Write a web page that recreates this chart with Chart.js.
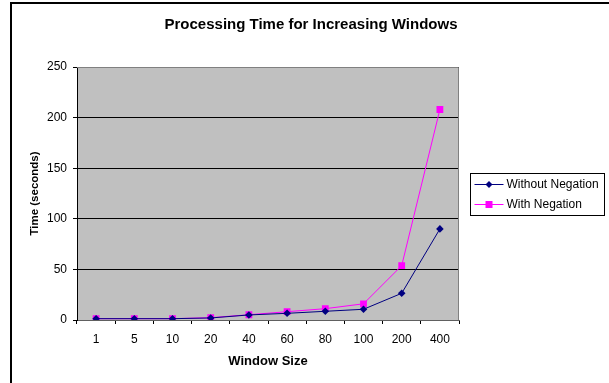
<!DOCTYPE html>
<html>
<head>
<meta charset="utf-8">
<script src="https://cdn.jsdelivr.net/npm/chart.js@4"></script>
<style>
  html, body { margin: 0; padding: 0; background: #fff; }
  #wrap { width: 609px; height: 383px; position: relative; }
</style>
</head>
<body>
<div id="wrap"><canvas id="timeChart" width="609" height="383"></canvas></div>
<script>
// chart data
const windowSizes = ['1', '5', '10', '20', '40', '60', '80', '100', '200', '400'];
const withoutNegation = [1.3, 1.3, 1.3, 2, 5, 6.6, 8.6, 10.6, 26.4, 90];
const withNegation = [1.3, 1.3, 1.3, 2.3, 5.2, 8.2, 11.2, 16, 53.7, 208];
const yTicks = [0, 50, 100, 150, 200, 250];
const chartTitle = 'Processing Time for Increasing Windows';

const FONT = 'Liberation Sans, Arial, sans-serif';

// outer frame, title and grey plot background
const framePlugin = {
  id: 'frame',
  beforeDraw(chart) {
    const c = chart.ctx;
    const a = chart.chartArea;
    c.save();
    c.fillStyle = '#fff';
    c.fillRect(0, 0, chart.width, chart.height);
    c.strokeStyle = '#000';
    c.lineWidth = 2;
    c.beginPath();
    c.moveTo(11, chart.height);
    c.lineTo(11, 3);
    c.lineTo(chart.width, 3);
    c.stroke();
    // title is centred on the whole frame, not the plot
    c.fillStyle = '#000';
    c.font = 'bold 15px ' + FONT;
    c.textAlign = 'center';
    c.textBaseline = 'middle';
    c.fillText(chartTitle, 311, 25);
    c.fillStyle = '#c0c0c0';
    c.fillRect(a.left, a.top, a.right - a.left, a.bottom - a.top);
    c.restore();
  },
  afterDatasetsDraw(chart) {
    // grey plot border on top and right
    const c = chart.ctx;
    const a = chart.chartArea;
    c.save();
    c.strokeStyle = '#808080';
    c.lineWidth = 1;
    c.beginPath();
    c.moveTo(a.left, a.top + 0.5);
    c.lineTo(a.right - 0.5, a.top + 0.5);
    c.lineTo(a.right - 0.5, a.bottom);
    c.stroke();
    c.restore();
  }
};

// boxed legend to the right of the plot
const boxLegend = {
  id: 'boxLegend',
  afterDraw(chart) {
    const c = chart.ctx;
    const x = 470.5, y = 173.5, w = 134, h = 42;
    c.save();
    c.fillStyle = '#fff';
    c.fillRect(x, y, w, h);
    c.strokeStyle = '#000';
    c.lineWidth = 1;
    c.strokeRect(x, y, w, h);
    chart.data.datasets.forEach((ds, i) => {
      const ly = y + 11 + i * 20;
      c.strokeStyle = ds.borderColor;
      c.beginPath();
      c.moveTo(x + 4, ly);
      c.lineTo(x + 33, ly);
      c.stroke();
      c.fillStyle = ds.backgroundColor;
      if (ds.pointStyle === 'rectRot') {
        c.beginPath();
        c.moveTo(x + 18.5, ly - 3.5);
        c.lineTo(x + 22, ly);
        c.lineTo(x + 18.5, ly + 3.5);
        c.lineTo(x + 15, ly);
        c.closePath();
        c.fill();
      } else {
        c.fillRect(x + 15, ly - 3.5, 7, 7);
      }
      c.fillStyle = '#000';
      c.font = '12px ' + FONT;
      c.textBaseline = 'middle';
      c.textAlign = 'left';
      c.fillText(ds.label, x + 36, ly);
    });
    c.restore();
  }
};

const ctx = document.getElementById('timeChart').getContext('2d');
const timeChart = new Chart(ctx, {
  type: 'line',
  data: {
    labels: windowSizes,
    datasets: [{
      label: 'Without Negation',
      data: withoutNegation,
      borderColor: '#000080',
      backgroundColor: '#000080',
      borderWidth: 1,
      pointStyle: 'rectRot',
      pointRadius: 3.8,
      pointBorderWidth: 0,
      tension: 0
    }, {
      label: 'With Negation',
      data: withNegation,
      borderColor: '#ff00ff',
      backgroundColor: '#ff00ff',
      borderWidth: 1,
      pointStyle: 'rect',
      pointRadius: 4.8,
      pointBorderWidth: 0,
      tension: 0
    }]
  },
  options: {
    responsive: false,
    animation: false,
    devicePixelRatio: 1,
    layout: { padding: { left: 12, right: 150, top: 67, bottom: 0 } },
    plugins: {
      legend: { display: false },
      tooltip: { enabled: false },
      title: { display: false }
    },
    scales: {
      x: {
        offset: true,
        grid: {
          offset: true,
          drawOnChartArea: false,
          drawTicks: true,
          tickLength: 4,
          color: '#000'
        },
        border: { color: '#606060', width: 1 },
        ticks: { color: '#000', font: { family: FONT, size: 12 }, padding: 8, maxRotation: 0, autoSkip: false },
        title: {
          display: true,
          text: 'Window Size',
          color: '#000',
          font: { family: FONT, size: 13, weight: 'bold' },
          padding: { top: 0, bottom: 14 }
        },
        afterFit(scale) { scale.height = 63; }
      },
      y: {
        min: 0,
        max: 250,
        afterBuildTicks(scale) { scale.ticks = yTicks.map(v => ({ value: v })); },
        grid: { color: '#000', tickLength: 4, drawTicks: true },
        border: { color: '#000', width: 1 },
        ticks: { color: '#000', font: { family: FONT, size: 12 }, padding: 6 },
        title: {
          display: true,
          text: 'Time (seconds)',
          color: '#000',
          font: { family: FONT, size: 11.5, weight: 'bold' },
          padding: { top: 16, bottom: 0 }
        },
        afterFit(scale) { scale.width = 65; }
      }
    }
  },
  plugins: [framePlugin, boxLegend]
});
</script>
</body>
</html>
